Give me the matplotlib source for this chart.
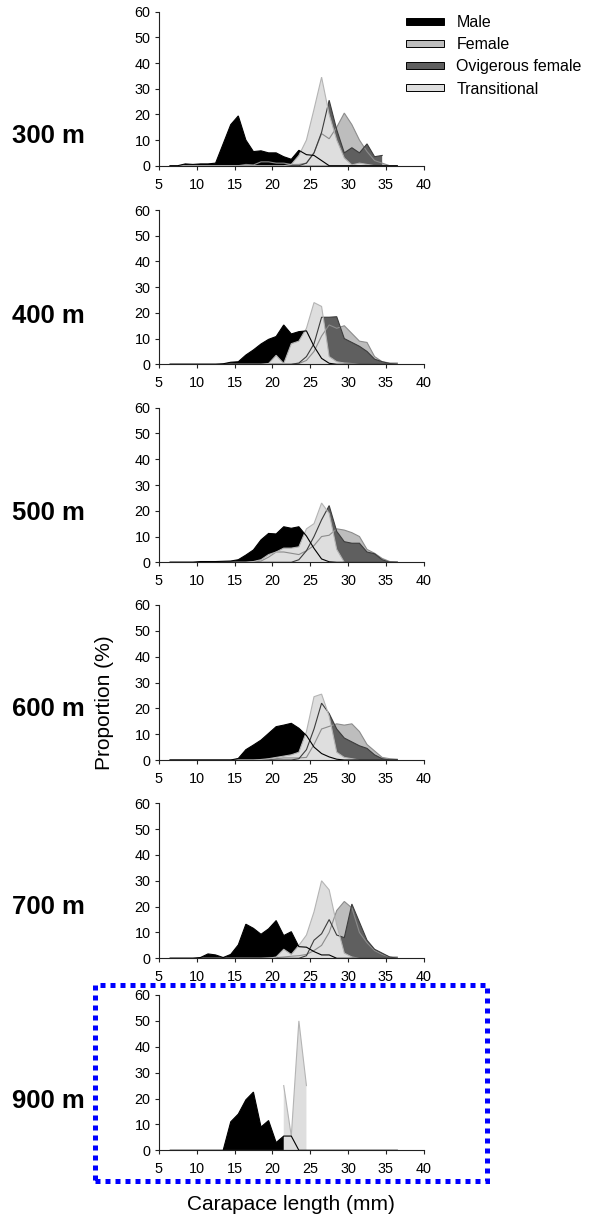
import numpy as np
import matplotlib
matplotlib.use("Agg")
import matplotlib.pyplot as plt
from matplotlib.patches import Patch, Rectangle

plt.rcParams['font.family'] = ['Liberation Sans', 'DejaVu Sans']

# Carapace length class mid-points (mm)
lengths = np.arange(6.5, 37.0, 1.0)
nan = np.nan

depths = ["300 m", "400 m", "500 m", "600 m", "700 m", "900 m"]
series_names = ["Male", "Female", "Ovigerous female", "Transitional"]

#            6.5 7.5 8.5 9.5 10.5 11.5 12.5 13.5 14.5 15.5 16.5 17.5 18.5 19.5 20.5 21.5 22.5 23.5 24.5 25.5 26.5 27.5 28.5 29.5 30.5 31.5 32.5 33.5 34.5 35.5 36.5
male_300 = [0, 0, 0.7, 0.5, 0.7, 0.7, 1, 8.5, 16, 19.4, 10, 5.5, 5.8, 5, 5, 3.5, 2.5, 6, 4.3, 4, 2, 0, 0, 0, 0, 0, 0, 0, 0, 0, 0]
female_300 = [0, 0, 0, 0, 0, 0, 0, 0, 0, 0, 0.5, 0.3, 1.5, 1.5, 1, 1, 0.5, 0.5, 1, 5, 12.5, 10.5, 15, 20.5, 16, 10, 5.5, 2, 1, 0, 0]
ovig_300 = [0, 0, 0, 0, 0, 0, 0, 0, 0, 0, 0, 0, 0, 0, 0, 0, 0, 0, 1, 5, 13, 25.5, 14, 5, 7, 5, 8.5, 3.5, 4, nan, nan]
trans_300 = [0, 0, 0, 0, 0, 0, 0, 0, 0, 0, 0, 0, 0, 0, 0, 0, 0.5, 4, 10, 22, 34.5, 20, 10, 3, 0.3, 1, 0.5, 0, 0, 0, 0]

male_400 = [0, 0, 0, 0, 0, 0, 0, 0.2, 0.8, 1, 3.6, 5.6, 7.9, 9.7, 10.8, 15.3, 11.8, 12.7, 13, 7, 2.3, 0.4, 0, 0, 0, 0, 0, 0, 0, 0, 0]
female_400 = [0, 0, 0, 0, 0, 0, 0, 0, 0, 0, 0, 0, 0, 0, 0, 0, 0, 0.3, 1.5, 5, 11, 15.3, 14, 15, 12, 9, 8.5, 3, 1, 0.5, 0.5]
ovig_400 = [0, 0, 0, 0, 0, 0, 0, 0, 0, 0, 0, 0, 0, 0, 0, 0, 0, 0.5, 3, 8, 18.3, 18.3, 18.5, 10, 8.5, 7, 5, 2, 1, 0.3, 0]
trans_400 = [0, 0, 0, 0, 0, 0, 0, 0, 0, 0, 0, 0, 0, 0.3, 3.5, 0.3, 8, 9, 14, 24, 22.5, 3, 1, 0.5, 0.3, 0, 0, 0, 0, 0, 0]

male_500 = [0, 0, 0, 0, 0.3, 0.3, 0.3, 0.4, 0.5, 1, 2.8, 4.8, 8.7, 11.2, 11, 13.8, 13.2, 13.8, 10.2, 5.4, 1.3, 0.2, 0, 0, 0, 0, 0, 0, 0, 0, 0]
female_500 = [0, 0, 0, 0, 0, 0, 0, 0, 0, 0, 0, 0.2, 0.5, 2, 4, 4, 3.5, 3, 4.5, 6.5, 10, 10.5, 13, 12.5, 11.5, 10, 5, 3.5, 1.5, 0.3, 0]
ovig_500 = [0, 0, 0, 0, 0, 0, 0, 0, 0, 0, 0, 0, 0, 0, 0, 0, 0, 1, 4.5, 10, 16.5, 22, 12, 8, 7.4, 7.4, 4, 3.3, 1, 0, 0]
trans_500 = [0, 0, 0, 0, 0, 0, 0, 0, 0, 0, 0, 0.3, 1, 3, 4, 5.5, 5.5, 6, 13, 15, 23, 19, 5, 0, 0, 0, 0, 0, 0, 0, 0]

male_600 = [0, 0, 0, 0, 0, 0, 0, 0, 0, 0.6, 4, 5.8, 7.7, 10.3, 12.9, 13.5, 14.2, 12.3, 9.5, 5, 2.5, 1.2, 0.3, 0, 0, 0, 0, 0, 0, 0, 0]
female_600 = [0, 0, 0, 0, 0, 0, 0, 0, 0, 0, 0, 0, 0, 0, 0.5, 0.8, 0.8, 0.8, 1, 6, 12, 13, 14, 13.5, 14, 11, 6, 3.5, 1, 0.5, 0.3]
ovig_600 = [0, 0, 0, 0, 0, 0, 0, 0, 0, 0, 0, 0, 0, 0, 0, 0, 0, 0.5, 4, 12, 22, 18, 12, 8.5, 7, 5.5, 4.5, 2, 0.5, 0, 0]
trans_600 = [0, 0, 0, 0, 0, 0, 0, 0, 0, 0, 0, 0, 0.2, 0.5, 1, 1.5, 2, 3, 11, 24.5, 25.5, 17, 3, 1, 0.5, 0, 0, 0, 0, 0, 0]

male_700 = [0, 0, 0, 0, 0.3, 1.7, 1.3, 0.3, 1.5, 5.2, 13.2, 11.6, 9.3, 11.4, 14.6, 8.8, 10.3, 4.5, 4.3, 2.6, 1.3, 1.3, 0, 0, 0, 0, 0, 0, 0, 0, 0]
female_700 = [0, 0, 0, 0, 0, 0, 0, 0, 0, 0, 0, 0, 0, 0.3, 0.3, 0.5, 0.8, 1, 1.5, 3, 5, 10, 18.5, 22, 19.5, 10, 6, 3, 1.5, 0.5, 0.5]
ovig_700 = [0, 0, 0, 0, 0, 0, 0, 0, 0, 0, 0, 0, 0, 0, 0, 0, 0, 0, 1, 7, 9.5, 15, 9, 8, 21, 14, 7, 3.5, 2, 0.5, 0]
trans_700 = [0, 0, 0, 0, 0, 0, 0, 0, 0, 0, 0, 0, 0, 0, 0.5, 3.5, 1.5, 5, 9, 18, 30, 26.5, 13, 2, 0.5, 0, 0, 0, 0, 0, 0]

male_900 = [0, 0, 0, 0, 0, 0, 0, 0, 11, 14, 19.5, 22.5, 9, 11.5, 3, 5.5, 5.5, 0, 0, 0, 0, 0, 0, 0, 0, 0, 0, 0, 0, 0, 0]
female_900 = [0] * 31
ovig_900 = [0] * 31
trans_900 = [nan] * 15 + [25, 5.5, 50, 25] + [nan] * 12

data = [
    (male_300, female_300, ovig_300, trans_300),
    (male_400, female_400, ovig_400, trans_400),
    (male_500, female_500, ovig_500, trans_500),
    (male_600, female_600, ovig_600, trans_600),
    (male_700, female_700, ovig_700, trans_700),
    (male_900, female_900, ovig_900, trans_900),
]

fill_colors = ["#000000", "#bdbdbd", "#5f5f5f", "#dedede"]
line_colors = ["#000000", "#8c8c8c", "#3c3c3c", "#b4b4b4"]
fill_order = [1, 2, 0, 3]   # back to front: Female, Ovigerous, Male, Transitional

W, H = 589, 1221
fig = plt.figure(figsize=(W / 100, H / 100), dpi=100)

panel_px = [(11.7, 165.7), (210, 364.3), (407.7, 562.3), (605, 760), (803.3, 958.3), (995, 1150.3)]
label_base = [143.3, 322.5, 519.5, 716.5, 914.5, 1108.5]
left_px, right_px = 158.8, 423.8

for k, (top, bot) in enumerate(panel_px):
    ax = fig.add_axes([left_px / W, 1 - bot / H, (right_px - left_px) / W, (bot - top) / H])
    series = [np.array(s, dtype=float) for s in data[k]]
    for idx in fill_order:
        y = series[idx]
        ax.fill_between(lengths, 0, y, where=~np.isnan(y), facecolor=fill_colors[idx],
                        edgecolor='none', linewidth=0, interpolate=False)
    for idx in [1, 2, 3, 0]:
        ax.plot(lengths, series[idx], color=line_colors[idx], lw=0.8, solid_joinstyle='miter')
    ax.set_xlim(5, 40)
    ax.set_ylim(0, 60)
    ax.set_xticks(range(5, 41, 5))
    ax.set_yticks(range(0, 61, 10))
    for s in ['top', 'right']:
        ax.spines[s].set_visible(False)
    for s in ['left', 'bottom']:
        ax.spines[s].set_linewidth(0.8)
        ax.spines[s].set_color('#222222')
    ax.tick_params(axis='both', direction='out', length=3, width=0.8, color='#222222',
                   labelsize=10.4, pad=3)
    ax.tick_params(axis='x', pad=5.5)
    ax.patch.set_alpha(0)
    fig.text(48.5 / W, 1 - label_base[k] / H, depths[k], ha='center', va='baseline',
             fontsize=18.5, fontweight='bold')

handles = [Patch(facecolor=fill_colors[i], edgecolor='#000000', linewidth=0.7, label=series_names[i])
           for i in range(4)]
fig.legend(handles=handles, loc='upper left', bbox_to_anchor=(406 / W, 1 - 15 / H),
           frameon=False, fontsize=11.5, handlelength=2.4, handleheight=0.32,
           handletextpad=0.75, labelspacing=0.45, borderpad=0, borderaxespad=0)

fig.text(105 / W, 1 - 703 / H, "Proportion (%)", rotation=90, ha='center', va='center', fontsize=15)
fig.text(290.5 / W, 1 - 1210 / H, "Carapace length (mm)", ha='center', va='baseline', fontsize=15)

box = Rectangle((95 / W, 1 - 1181 / H), (487 - 95) / W, (1181 - 985) / H, transform=fig.transFigure,
                fill=False, edgecolor='#0000ff', linewidth=3.6, linestyle=(0, (1, 1)))
fig.add_artist(box)

fig.savefig("out.png", dpi=100)
